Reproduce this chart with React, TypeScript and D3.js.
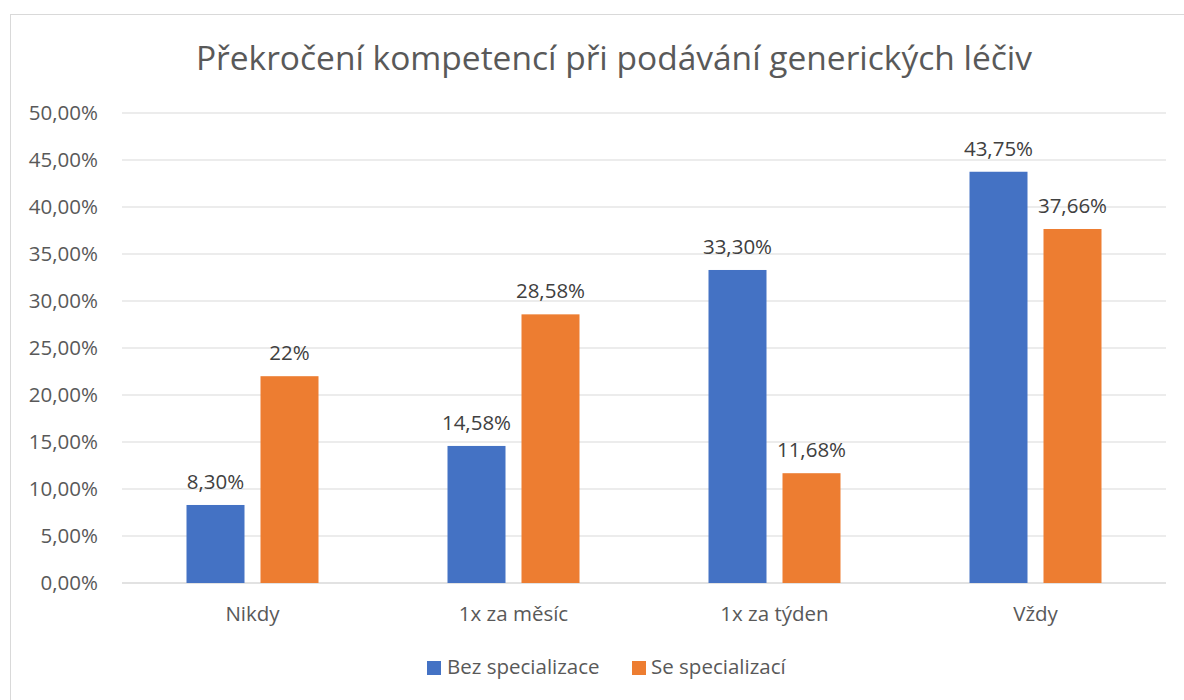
import React from "react";
import * as d3 from "d3";

const categories = ["Nikdy", "1x za měsíc", "1x za týden", "Vždy"];
const seriesNames = ["Bez specializace", "Se specializací"];
const bezSpecializace = [8.3, 14.58, 33.3, 43.75];
const seSpecializaci = [22, 28.58, 11.68, 37.66];
const bezLabels = ["8,30%", "14,58%", "33,30%", "43,75%"];
const seLabels = ["22%", "28,58%", "11,68%", "37,66%"];
const yTicks = [0, 5, 10, 15, 20, 25, 30, 35, 40, 45, 50];
const colors = ["#4472C4", "#ED7D31"];

const W = 1184;
const H = 700;
const left = 122;
const right = 1166;
const top = 113;
const bottom = 583;
const font = "'Open Sans', 'DejaVu Sans', sans-serif";
const fs = 20.5;

export default function App() {
  const x = d3.scaleBand<string>().domain(categories).range([left, right]).paddingInner(0).paddingOuter(0);
  const y = d3.scaleLinear().domain([0, 50]).range([bottom, top]);
  const barW = 58;
  const gap = 16;
  const series = [bezSpecializace, seSpecializaci];
  const labels = [bezLabels, seLabels];
  const fmt = (v: number) => v.toFixed(2).replace(".", ",") + "%";

  return (
    <svg width={W} height={H} style={{ position: "absolute", left: 0, top: 0, background: "#fff" }}>
      <rect x={10.5} y={14.5} width={1200} height={720} fill="#fff" stroke="#d9d9d9" strokeWidth={1} />
      <text x={614} y={70} textAnchor="middle" fontFamily={font} fontSize={33.5} fill="#595959">
        Překročení kompetencí při podávání generických léčiv
      </text>
      {yTicks.map((t) => (
        <g key={t}>
          <line x1={left} x2={right} y1={y(t)} y2={y(t)} stroke="#d9d9d9" strokeWidth={t === 0 ? 1.5 : 1} />
          <text x={98} y={y(t) + 7} textAnchor="end" fontFamily={font} fontSize={fs} fill="#595959">
            {fmt(t)}
          </text>
        </g>
      ))}
      {categories.map((c, i) => {
        const cx = x(c)! + x.bandwidth() / 2;
        return (
          <g key={c}>
            {series.map((s, j) => {
              const bx = j === 0 ? cx - gap / 2 - barW : cx + gap / 2;
              return (
                <g key={j}>
                  <rect x={bx} y={y(s[i])} width={barW} height={bottom - y(s[i])} fill={colors[j]} />
                  <text
                    x={bx + barW / 2}
                    y={y(s[i]) - 16}
                    textAnchor="middle"
                    fontFamily={font}
                    fontSize={fs}
                    fill="#404040"
                  >
                    {labels[j][i]}
                  </text>
                </g>
              );
            })}
            <text x={cx} y={621} textAnchor="middle" fontFamily={font} fontSize={fs} fill="#595959">
              {c}
            </text>
          </g>
        );
      })}
      <g>
        <rect x={427} y={661} width={14} height={14} fill={colors[0]} />
        <text x={447} y={674} fontFamily={font} fontSize={fs} fill="#595959">
          {seriesNames[0]}
        </text>
        <rect x={632} y={661} width={14} height={14} fill={colors[1]} />
        <text x={651} y={674} fontFamily={font} fontSize={fs} fill="#595959">
          {seriesNames[1]}
        </text>
      </g>
    </svg>
  );
}
